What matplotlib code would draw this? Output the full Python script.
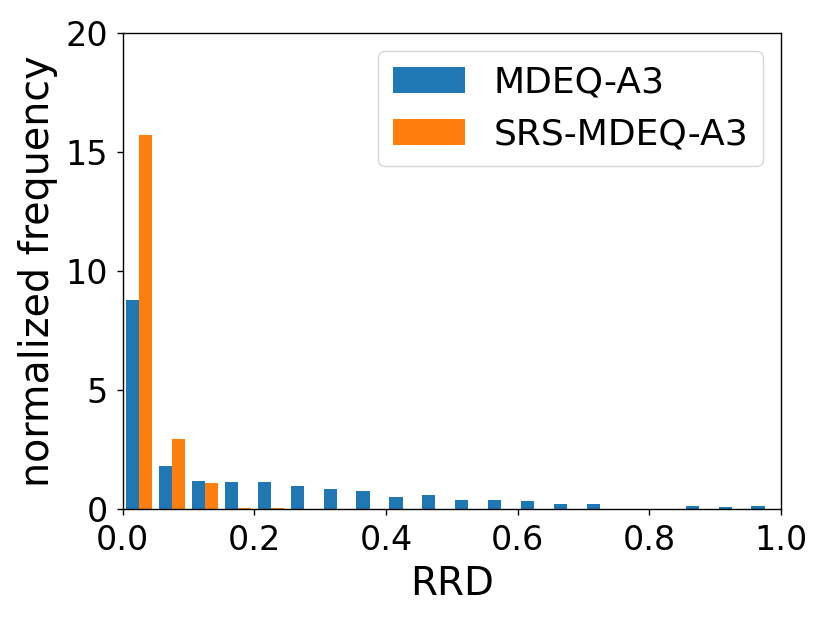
import numpy as np
import matplotlib
matplotlib.use("Agg")
import matplotlib.pyplot as plt

bin_edges = [i * 0.05 for i in range(21)]
mdeq_a3 = [8.78, 1.81, 1.18, 1.13, 1.13, 0.97, 0.85, 0.74, 0.49, 0.57,
           0.39, 0.39, 0.33, 0.22, 0.22, 0.02, 0.0, 0.14, 0.07, 0.14]
srs_mdeq_a3 = [15.71, 2.93, 1.09, 0.05, 0.05, 0.0, 0.0, 0.0, 0.0, 0.0,
               0.0, 0.0, 0.0, 0.0, 0.0, 0.0, 0.0, 0.0, 0.0, 0.0]
labels = ["MDEQ-A3", "SRS-MDEQ-A3"]

centers = [(bin_edges[i] + bin_edges[i + 1]) / 2 for i in range(20)]

plt.rcParams['axes.linewidth'] = 1.0
fig = plt.figure(figsize=(8.3, 6.23), dpi=100)
ax = fig.add_axes([0.148, 0.183, 0.793, 0.764])
ax.hist([centers, centers], bins=bin_edges, weights=[mdeq_a3, srs_mdeq_a3],
        color=["#1f77b4", "#ff7f0e"], label=labels)
ax.set_xlim(0, 1.0)
ax.set_ylim(0, 20)
ax.set_yticks([0, 5, 10, 15, 20])
ax.tick_params(labelsize=24, length=4.4, width=1.0, pad=6.5)
ax.set_xlabel("RRD", fontsize=28, labelpad=6)
ax.set_ylabel("normalized frequency", fontsize=28.5, labelpad=5)
ax.legend(fontsize=26, loc="upper right")
fig.savefig("out.png", dpi=100)
